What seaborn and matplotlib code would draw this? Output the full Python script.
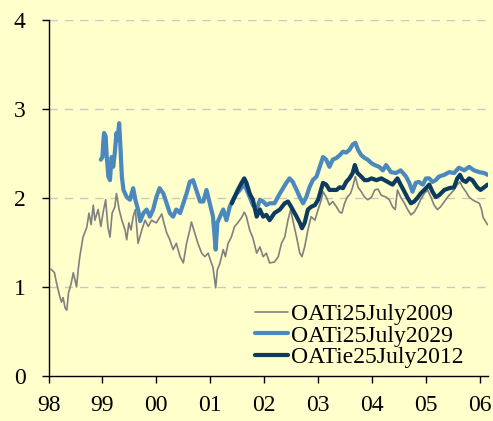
import pandas as pd
import seaborn as sns
import matplotlib.pyplot as plt

# OATi 25 July 2009 (decimal years)
yr_2009 = [1998.05, 1998.11, 1998.15, 1998.21, 1998.24, 1998.27, 1998.31, 1998.34, 1998.37, 1998.42,
           1998.46, 1998.49, 1998.52, 1998.55, 1998.58, 1998.64, 1998.71, 1998.75, 1998.79, 1998.83,
           1998.86, 1998.92, 1998.97, 1999.01, 1999.06, 1999.10, 1999.14, 1999.18, 1999.23, 1999.26,
           1999.31, 1999.36, 1999.42, 1999.45, 1999.49, 1999.53, 1999.57, 1999.61, 1999.66, 1999.73,
           1999.79, 1999.85, 1999.91, 2000.00, 2000.10, 2000.14, 2000.19, 2000.25, 2000.31, 2000.37,
           2000.44, 2000.50, 2000.56, 2000.62, 2000.65, 2000.71, 2000.77, 2000.84, 2000.90, 2000.96,
           2001.02, 2001.05, 2001.10, 2001.13, 2001.18, 2001.24, 2001.28, 2001.33, 2001.39, 2001.45,
           2001.51, 2001.58, 2001.63, 2001.67, 2001.73, 2001.79, 2001.86, 2001.92, 2001.98, 2002.04,
           2002.10, 2002.19, 2002.26, 2002.32, 2002.38, 2002.44, 2002.49, 2002.53, 2002.60, 2002.66,
           2002.70, 2002.75, 2002.81, 2002.87, 2002.94, 2003.00, 2003.06, 2003.09, 2003.15, 2003.21,
           2003.27, 2003.34, 2003.40, 2003.44, 2003.49, 2003.54, 2003.60, 2003.64, 2003.69, 2003.74,
           2003.80, 2003.86, 2003.92, 2003.99, 2004.05, 2004.11, 2004.17, 2004.26, 2004.32, 2004.38,
           2004.43, 2004.47, 2004.53, 2004.60, 2004.66, 2004.72, 2004.78, 2004.84, 2004.90, 2004.97,
           2005.03, 2005.09, 2005.15, 2005.21, 2005.27, 2005.34, 2005.40, 2005.46, 2005.52, 2005.58,
           2005.63, 2005.68, 2005.74, 2005.80, 2005.86, 2005.92, 2005.99, 2006.03, 2006.06, 2006.11,
           2006.14]
val_2009 = [1.20, 1.16, 1.04, 0.89, 0.83, 0.88, 0.76, 0.74, 0.93, 1.04,
            1.16, 1.08, 1.00, 1.19, 1.34, 1.56, 1.67, 1.83, 1.70, 1.92,
            1.75, 1.87, 1.68, 1.83, 1.98, 1.68, 1.56, 1.83, 1.90, 2.05,
            1.87, 1.75, 1.64, 1.53, 1.72, 1.64, 1.79, 1.87, 1.49, 1.64,
            1.75, 1.68, 1.75, 1.72, 1.82, 1.72, 1.61, 1.53, 1.42, 1.49,
            1.34, 1.27, 1.49, 1.64, 1.73, 1.61, 1.49, 1.38, 1.34, 1.38,
            1.27, 1.22, 0.99, 1.19, 1.27, 1.42, 1.34, 1.49, 1.56, 1.68,
            1.72, 1.78, 1.84, 1.79, 1.64, 1.55, 1.38, 1.45, 1.34, 1.38,
            1.27, 1.28, 1.34, 1.49, 1.56, 1.75, 1.87, 1.75, 1.56, 1.38,
            1.34, 1.45, 1.64, 1.79, 1.75, 1.87, 1.98, 2.07, 2.01, 1.92,
            1.96, 1.90, 1.84, 1.83, 1.94, 2.01, 2.05, 2.12, 2.24, 2.12,
            2.07, 2.01, 1.98, 2.01, 2.09, 2.10, 2.03, 2.01, 1.98, 1.90,
            1.87, 2.09, 2.01, 1.94, 1.87, 1.81, 1.84, 1.90, 1.98, 2.05,
            2.09, 2.01, 1.92, 1.87, 1.90, 1.96, 2.01, 2.05, 2.09, 2.15,
            2.18, 2.12, 2.07, 2.01, 1.98, 1.96, 1.94, 1.87, 1.78, 1.73,
            1.70]

# OATi 25 July 2029
yr_2029 = [1998.97, 1999.00, 1999.015, 1999.03, 1999.06, 1999.08, 1999.11, 1999.14, 1999.17, 1999.20,
           1999.23, 1999.26, 1999.28, 1999.31, 1999.33, 1999.36, 1999.39, 1999.45, 1999.51, 1999.57,
           1999.61, 1999.66, 1999.70, 1999.76, 1999.82, 1999.88, 1999.94, 2000.00, 2000.06, 2000.13,
           2000.19, 2000.25, 2000.31, 2000.37, 2000.44, 2000.50, 2000.56, 2000.62, 2000.68, 2000.74,
           2000.81, 2000.87, 2000.93, 2000.99, 2001.05, 2001.10, 2001.13, 2001.18, 2001.24, 2001.30,
           2001.36, 2001.42, 2001.49, 2001.55, 2001.61, 2001.67, 2001.73, 2001.79, 2001.86, 2001.92,
           2001.98, 2002.04, 2002.10, 2002.19, 2002.29, 2002.35, 2002.41, 2002.47, 2002.53, 2002.60,
           2002.66, 2002.72, 2002.78, 2002.84, 2002.90, 2002.97, 2003.03, 2003.09, 2003.15, 2003.21,
           2003.27, 2003.34, 2003.40, 2003.46, 2003.52, 2003.58, 2003.64, 2003.69, 2003.74, 2003.80,
           2003.86, 2003.92, 2003.99, 2004.05, 2004.13, 2004.20, 2004.26, 2004.35, 2004.44, 2004.53,
           2004.63, 2004.69, 2004.75, 2004.81, 2004.87, 2004.94, 2005.00, 2005.06, 2005.12, 2005.18,
           2005.24, 2005.34, 2005.43, 2005.52, 2005.61, 2005.71, 2005.80, 2005.89, 2005.99, 2006.08,
           2006.14]
val_2029 = [2.43, 2.46, 2.62, 2.73, 2.69, 2.46, 2.24, 2.20, 2.46, 2.35,
            2.51, 2.73, 2.65, 2.84, 2.62, 2.24, 2.09, 2.01, 1.98, 2.11,
            1.98, 1.87, 1.74, 1.83, 1.87, 1.79, 1.87, 2.01, 2.11, 2.05,
            1.94, 1.83, 1.79, 1.87, 1.83, 1.94, 2.05, 2.18, 2.20, 2.09,
            1.96, 1.96, 2.09, 1.94, 1.79, 1.42, 1.72, 1.79, 1.87, 1.75,
            1.90, 1.98, 2.05, 2.09, 2.15, 2.10, 2.01, 1.92, 1.87, 1.98,
            1.96, 1.92, 1.94, 1.94, 2.05, 2.11, 2.17, 2.22, 2.18, 2.09,
            2.01, 1.94, 2.01, 2.12, 2.20, 2.24, 2.35, 2.46, 2.43, 2.35,
            2.43, 2.45, 2.48, 2.52, 2.51, 2.54, 2.60, 2.62, 2.54, 2.48,
            2.45, 2.43, 2.39, 2.37, 2.35, 2.31, 2.37, 2.29, 2.28, 2.31,
            2.24, 2.17, 2.07, 2.17, 2.18, 2.15, 2.22, 2.22, 2.18, 2.20,
            2.24, 2.26, 2.29, 2.28, 2.34, 2.31, 2.35, 2.31, 2.29, 2.28,
            2.26]

# OATie 25 July 2012
yr_2012 = [2001.40, 2001.45, 2001.51, 2001.58, 2001.63, 2001.67, 2001.73, 2001.79, 2001.86, 2001.92,
           2001.98, 2002.04, 2002.10, 2002.19, 2002.29, 2002.38, 2002.44, 2002.50, 2002.60, 2002.66,
           2002.70, 2002.75, 2002.81, 2002.87, 2002.94, 2003.00, 2003.09, 2003.15, 2003.21, 2003.27,
           2003.34, 2003.40, 2003.46, 2003.52, 2003.58, 2003.64, 2003.68, 2003.73, 2003.80, 2003.86,
           2003.92, 2003.99, 2004.08, 2004.17, 2004.29, 2004.38, 2004.47, 2004.53, 2004.60, 2004.66,
           2004.72, 2004.78, 2004.84, 2004.90, 2005.00, 2005.06, 2005.12, 2005.18, 2005.24, 2005.34,
           2005.43, 2005.52, 2005.58, 2005.63, 2005.68, 2005.74, 2005.80, 2005.86, 2005.95, 2006.01,
           2006.08, 2006.14]
val_2012 = [1.94, 2.01, 2.09, 2.17, 2.22, 2.17, 2.05, 1.98, 1.79, 1.87,
            1.79, 1.81, 1.75, 1.83, 1.87, 1.94, 1.96, 1.90, 1.79, 1.72,
            1.66, 1.72, 1.87, 1.90, 1.92, 1.98, 2.17, 2.15, 2.09, 2.09,
            2.09, 2.12, 2.11, 2.18, 2.22, 2.28, 2.37, 2.28, 2.24, 2.20,
            2.20, 2.22, 2.20, 2.22, 2.18, 2.15, 2.22, 2.15, 2.07, 2.00,
            1.94, 1.96, 2.00, 2.05, 2.11, 2.15, 2.07, 2.01, 2.03, 2.09,
            2.11, 2.12, 2.22, 2.26, 2.20, 2.18, 2.22, 2.20, 2.12, 2.09,
            2.12, 2.15]

x_ticks = [1998, 1999, 2000, 2001, 2002, 2003, 2004, 2005, 2006]
x_labels = ['98', '99', '00', '01', '02', '03', '04', '05', '06']

bg = '#FFFFCC'
sns.set_theme(style='ticks')
plt.rcParams['font.family'] = ['Liberation Serif', 'DejaVu Serif']

fig = plt.figure(figsize=(4.93, 4.21), dpi=100, facecolor=bg)
ax = fig.add_axes([0.0984, 0.107, 0.8915, 0.8456], facecolor=bg)

ax.grid(False)
for v in [1, 2, 3, 4]:
    ax.axhline(v, color='#C8C8C8', lw=1, ls=(0, (6, 5)), zorder=0)

sns.lineplot(x=yr_2009, y=val_2009, ax=ax, color='#808080', lw=1.2,
             estimator=None, label='OATi25July2009')
sns.lineplot(x=yr_2029, y=val_2029, ax=ax, color='#4A88BE', lw=3,
             estimator=None, label='OATi25July2029')
sns.lineplot(x=yr_2012, y=val_2012, ax=ax, color='#0D3A5F', lw=3,
             estimator=None, label='OATie25July2012')

ax.set_xlim(1998, 2006.15)
ax.set_ylim(0, 4)
ax.set_yticks([0, 1, 2, 3, 4])
ax.set_xticks(x_ticks)
ax.set_xticklabels(x_labels)
ax.set_xlabel('')
ax.set_ylabel('')
ax.tick_params(axis='both', labelsize=17, colors='black', direction='out', length=5, width=1)
ax.tick_params(axis='x', pad=9)
ax.tick_params(axis='y', pad=11.5)
for s in ['top', 'right']:
    ax.spines[s].set_visible(False)
for s in ['left', 'bottom']:
    ax.spines[s].set_color('black')
    ax.spines[s].set_linewidth(1)

leg = ax.legend(loc='lower right', bbox_to_anchor=(0.945, 0.022), frameon=False, fontsize=17,
                handlelength=1.4, handletextpad=0.15, labelspacing=0.0,
                borderaxespad=0, borderpad=0)
for t in leg.get_texts():
    t.set_color('black')

fig.savefig('out.png', dpi=100, facecolor=bg)
